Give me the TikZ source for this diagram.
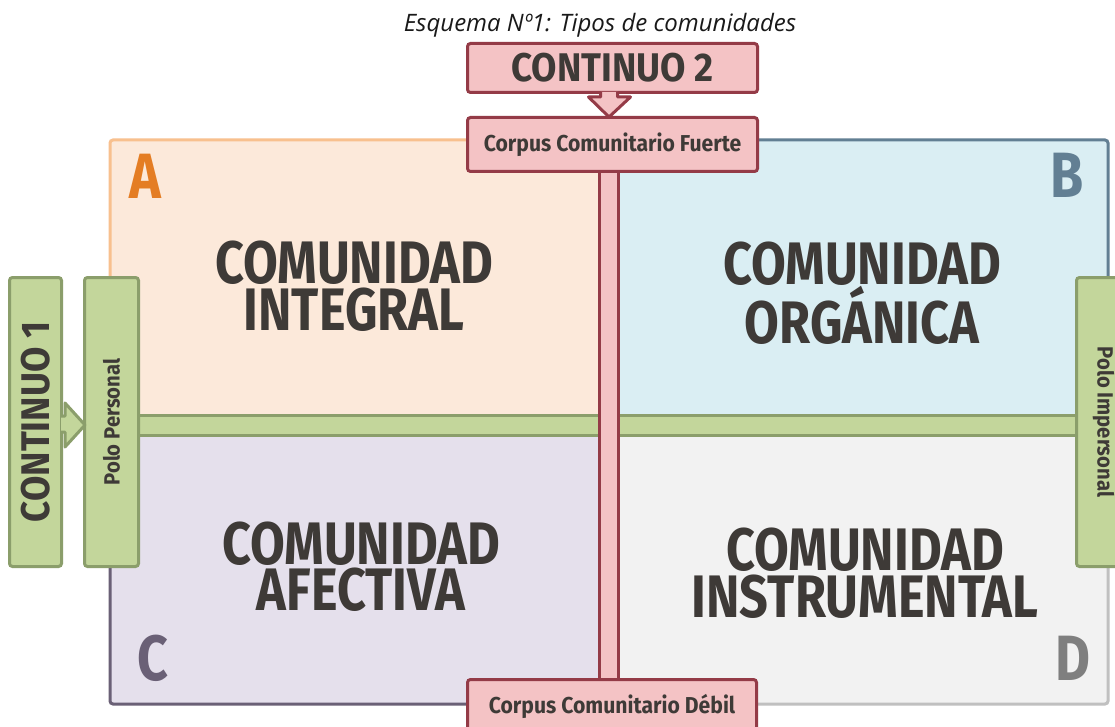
\documentclass[tikz,border=0pt]{standalone}
\usepackage{fontspec}
\usepackage{graphicx}
\setmainfont{Fira Sans}
\newfontfamily\cond[FakeStretch=0.84]{Fira Sans}
\newfontfamily\condw[FakeStretch=0.92]{Fira Sans}
\newfontfamily\titlefont{Open Sans}
\usetikzlibrary{calc}
\definecolor{pinkfill}{HTML}{F4C3C5}
\definecolor{pinkline}{HTML}{943B47}
\definecolor{greenfill}{HTML}{C3D69B}
\definecolor{greenline}{HTML}{8B9E6B}
\definecolor{Afill}{HTML}{FCE9DA}
\definecolor{Aline}{HTML}{F8C08E}
\definecolor{Aletter}{HTML}{E47D24}
\definecolor{Bfill}{HTML}{DAEEF3}
\definecolor{Bline}{HTML}{627F93}
\definecolor{Cfill}{HTML}{E5E0EC}
\definecolor{Cline}{HTML}{6A6076}
\definecolor{Dfill}{HTML}{F2F2F2}
\definecolor{Dline}{HTML}{C0C0C0}
\definecolor{Dletter}{HTML}{7F7F7F}
\definecolor{txt}{HTML}{3E3A37}
\pgfdeclarelayer{quadlayer}
\pgfdeclarelayer{greenlayer}
\pgfdeclarelayer{pinklayer}
\pgfsetlayers{quadlayer,greenlayer,pinklayer,main}
\tikzset{
  box/.style={draw, line width=3pt, rounded corners=3pt, inner sep=0pt, text=txt},
  pinkbox/.style={box, draw=pinkline, fill=pinkfill},
  greenbox/.style={box, draw=greenline, fill=greenfill},
  quad/.style={line width=3pt, rounded corners=3pt},
  big/.style={font=\cond\bfseries\fontsize{60}{46.5}\selectfont, text=txt, align=center, inner sep=0pt},
  letter/.style={font=\cond\bfseries\fontsize{64}{64}\selectfont, inner sep=0pt, anchor=base},
  huge/.style={font=\condw\bfseries\fontsize{40}{40}\selectfont},
  small/.style={font=\condw\bfseries\fontsize{23}{26}\selectfont},
  smaller/.style={font=\condw\bfseries\fontsize{22}{24}\selectfont},
  pinkarrow/.style={draw=pinkline, fill=pinkfill, line width=3pt, line join=round},
  greenarrow/.style={draw=greenline, fill=greenfill, line width=3pt, line join=round},
}
\begin{document}
\begin{tikzpicture}[x=1pt,y=-1pt]
\useasboundingbox (0,0) rectangle (1115,727);

% title
\node[font=\titlefont\itshape\fontsize{24}{28}\selectfont, text=black!90, inner sep=0pt] (title) at (600,25) {Esquema Nº1: Tipos de comunidades};

% boxes
\node[pinkbox, huge, minimum width=290pt, minimum height=49pt] (c2) at (612.5,68) {CONTINUO 2};
\node[pinkbox, small, minimum width=290pt, minimum height=54pt] (cf) at (612.5,144.5) {Corpus Comunitario Fuerte};
\node[pinkbox, small, minimum width=289pt, minimum height=54pt] (cd) at (612,706.5) {Corpus Comunitario Débil};
\node[greenbox, huge, minimum width=52pt, minimum height=289pt] (co1) at (35.5,422) {\rotatebox{90}{CONTINUO 1}};
\node[greenbox, smaller, minimum width=54pt, minimum height=289pt] (pp) at (111.5,422) {\rotatebox{90}{Polo Personal}};
\node[greenbox, smaller, minimum width=54pt, minimum height=289pt] (pi) at (1103.5,422) {\rotatebox{-90}{Polo Impersonal}};

% quadrants
\begin{pgfonlayer}{quadlayer}
\fill[white] (0,0) rectangle (1115,727);
\draw[quad, draw=Aline, fill=Afill] (110,140) rectangle (609,425);
\draw[quad, draw=Bline, fill=Bfill] (609,140) rectangle (1108,425);
\draw[quad, draw=Cline, fill=Cfill] (110,425) rectangle (609,704);
\draw[quad, draw=Dline, fill=Dfill] (609,425) rectangle (1108,704);
\end{pgfonlayer}

% bars
\begin{pgfonlayer}{greenlayer}
\draw[greenarrow] ($(pp.east)+(-3,-7)$) rectangle ($(pi.west)+(3,13)$);
\end{pgfonlayer}
\begin{pgfonlayer}{pinklayer}
\draw[pinkarrow] ($(cf.south)+(-13.5,-3)$) rectangle ($(cd.north)+(6.5,3)$);
\end{pgfonlayer}

% arrows
\draw[pinkarrow] ($(c2.south)+(-12,-2)$) -- ($(c2.south)+(-12,3)$) -- ($(c2.south)+(-24,3)$)
  -- ($(cf.north)+(-3.5,1)$) -- ($(c2.south)+(18,3)$) -- ($(c2.south)+(5,3)$) -- ($(c2.south)+(5,-2)$);
\draw[greenarrow] ($(co1.east)+(-2,-6)$) -- ($(co1.east)+(2,-6)$) -- ($(co1.east)+(2,-19)$)
  -- ($(pp.west)+(2,3)$) -- ($(co1.east)+(2,25)$) -- ($(co1.east)+(2,10)$) -- ($(co1.east)+(-2,10)$);

% letters
\node[letter, text=Aletter] (la) at (145.5,199) {A};
\node[letter, text=Bline] (lb) at (1067,198) {B};
\node[letter, text=Cline] (lc) at (152.5,680) {C};
\node[letter, text=Dletter] (ld) at (1072.5,680) {D};

% big texts
\node[big] (ti) at (354,286) {COMUNIDAD\\INTEGRAL};
\node[big] (to) at (862,293) {COMUNIDAD\\ORGÁNICA};
\node[big] (ta) at (361,566.5) {COMUNIDAD\\AFECTIVA};
\node[big] (tn) at (865,573) {COMUNIDAD\\INSTRUMENTAL};
\end{tikzpicture}
\end{document}
